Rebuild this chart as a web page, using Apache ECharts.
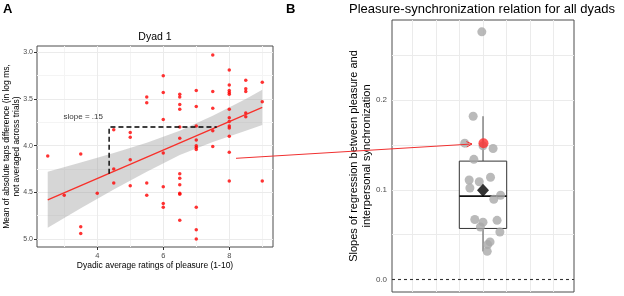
<!DOCTYPE html>
<html>
<head>
<meta charset="utf-8">
<style>
  html, body { margin: 0; padding: 0; background: #fff; }
  #chart { width: 624px; height: 296px; }
</style>
<script src="https://cdn.jsdelivr.net/npm/echarts@6/dist/echarts.min.js"></script>
</head>
<body>
<div id="chart"></div>
<script>
// ---- panel A: dyad 1, one point per trial ----
const pleasureA = [
  2.5, 3, 3.5, 3.5, 3.5, 4, 4.5, 4.5, 4.5, 5, 5, 5, 5, 5.5, 5.5, 5.5, 5.5,
  6, 6, 6, 6, 6, 6, 6,
  6.5, 6.5, 6.5, 6.5, 6.5, 6.5, 6.5, 6.5, 6.5, 6.5, 6.5, 6.5,
  7, 7, 7, 7, 7, 7, 7, 7, 7, 7,
  7.5, 7.5, 7.5, 7.5, 7.5,
  8, 8, 8, 8, 8, 8, 8, 8, 8, 8, 8, 8, 8,
  8.5, 8.5, 8.5, 8.5, 8.5, 9, 9, 9
];
const tapDiffA = [
  4.11, 4.53, 4.09, 4.87, 4.94, 4.51, 3.83, 4.25, 4.40, 3.86, 3.91, 4.15, 4.43, 3.48, 3.54, 4.40, 4.53,
  3.25, 3.43, 3.72, 4.08, 4.44, 4.62, 4.66,
  3.45, 3.48, 3.56, 3.61, 3.80, 3.92, 4.30, 4.35, 4.42, 4.51, 4.52, 4.80,
  3.41, 3.58, 3.79, 3.94, 4.00, 4.02, 4.04, 4.66, 4.90, 5.00,
  3.03, 3.42, 3.60, 3.84, 4.01,
  3.19, 3.35, 3.41, 3.43, 3.45, 3.61, 3.70, 3.74, 3.79, 3.81, 3.90, 4.07, 4.38,
  3.30, 3.39, 3.42, 3.65, 3.69, 3.32, 3.53, 4.38
];
const fitX = [2.5, 9];
const fitY = [4.58, 3.59];
const bandX = [2.5, 3.5, 4.5, 5.5, 6.5, 7.5, 8.5, 9];
const bandLow = [4.28, 4.18, 4.08, 3.97, 3.84, 3.68, 3.50, 3.40];
const bandHigh = [4.88, 4.67, 4.47, 4.28, 4.10, 3.96, 3.84, 3.78];
const slopeX = [4.36, 4.36, 7.62];
const slopeY = [4.30, 3.80, 3.80];
const xTicksA = [4, 6, 8];
const xMinorA = [3, 5, 7, 9];
const yTicksA = [3.0, 3.5, 4.0, 4.5, 5.0];
const yMinorA = [3.25, 3.75, 4.25, 4.75];

// ---- panel B: one slope per dyad ----
const jitterB = [-0.05, -0.42, -0.78, 0.0, 0.43, -0.39, 0.32, -0.59, -0.16, -0.56, 0.75, 0.46,
  -0.35, 0.6, 0.0, -0.11, 0.72, 0.3, 0.2, 0.18];
const slopesB = [0.276, 0.182, 0.152, 0.149, 0.146, 0.134, 0.114, 0.111, 0.109, 0.102, 0.094, 0.0895,
  0.067, 0.066, 0.064, 0.0586, 0.053, 0.042, 0.039, 0.0315];
const boxB = [0.0315, 0.057, 0.093, 0.132, 0.182]; // whisker low, q1, median, q3, whisker high
const meanB = 0.0996;
const dyad1Slope = 0.152;
const yTicksB = [0.0, 0.1, 0.2];
const yMinorB = [0.05, 0.15, 0.25];
const xGridB = [-3, -2, -1, 0, 1, 2, 3];

const FONT = "'Liberation Sans', Arial, sans-serif";
const GRID_MAJOR = "#ebebeb";
const GRID_MINOR = "#f4f4f4";

function gridLines(axisKey, values, color) {
  return values.map(v => ({ [axisKey]: v, lineStyle: { color: color, width: 1, type: "solid" } }));
}

const chart = echarts.init(document.getElementById("chart"), null, { renderer: "canvas" });

const option = {
  animation: false,
  textStyle: { fontFamily: FONT },
  grid: [
    { left: 37, top: 46, width: 236, height: 201, show: true, borderColor: "#4d4d4d", borderWidth: 1, backgroundColor: "transparent" },
    { left: 392, top: 20, width: 182, height: 272, show: true, borderColor: "#4d4d4d", borderWidth: 1, backgroundColor: "transparent" }
  ],
  xAxis: [
    {
      gridIndex: 0, type: "value", min: 2.175, max: 9.325,
      axisLine: { show: false },
      axisTick: { show: true, length: 3, lineStyle: { color: "#333" }, customValues: xTicksA },
      axisLabel: { fontSize: 7.5, color: "#4d4d4d", margin: 5, fontFamily: FONT, customValues: xTicksA },
      splitLine: { show: false }
    },
    {
      gridIndex: 1, type: "value", min: -3.88, max: 3.88,
      axisLine: { show: false }, axisTick: { show: false }, axisLabel: { show: false },
      splitLine: { show: false }
    }
  ],
  yAxis: [
    {
      gridIndex: 0, type: "value", inverse: true, min: 2.9325, max: 5.0857,
      axisLine: { show: false },
      axisTick: { show: true, length: 3, lineStyle: { color: "#333" }, customValues: yTicksA },
      axisLabel: {
        fontSize: 7, color: "#4d4d4d", margin: 4, fontFamily: FONT, customValues: yTicksA,
        formatter: v => v.toFixed(1)
      },
      splitLine: { show: false }
    },
    {
      gridIndex: 1, type: "value", min: -0.0138, max: 0.2892,
      axisLine: { show: false },
      axisTick: { show: true, length: 3, lineStyle: { color: "#333" }, customValues: yTicksB },
      axisLabel: {
        fontSize: 8, color: "#4d4d4d", margin: 5, fontFamily: FONT, customValues: yTicksB,
        formatter: v => v.toFixed(1)
      },
      splitLine: { show: false }
    }
  ],
  series: [
    // panel A grid lines
    {
      type: "line", xAxisIndex: 0, yAxisIndex: 0, data: [], z: 1, silent: true,
      markLine: {
        z: 1, silent: true, symbol: "none", label: { show: false }, animation: false,
        data: [].concat(
          gridLines("xAxis", xMinorA, GRID_MINOR), gridLines("yAxis", yMinorA, GRID_MINOR),
          gridLines("xAxis", xTicksA, GRID_MAJOR), gridLines("yAxis", yTicksA, GRID_MAJOR)
        )
      }
    },
    // confidence band
    {
      type: "custom", xAxisIndex: 0, yAxisIndex: 0, z: 2, silent: true,
      data: [[bandX[0], bandLow[0]]],
      renderItem: (params, api) => {
        const pts = [];
        bandX.forEach((x, i) => pts.push(api.coord([x, bandHigh[i]])));
        for (let i = bandX.length - 1; i >= 0; i--) pts.push(api.coord([bandX[i], bandLow[i]]));
        return { type: "polygon", shape: { points: pts }, style: { fill: "rgba(153,153,153,0.4)" } };
      }
    },
    {
      type: "scatter", xAxisIndex: 0, yAxisIndex: 0, z: 3, symbolSize: 3.5,
      itemStyle: { color: "#ff0000" },
      data: pleasureA.map((x, i) => [x, tapDiffA[i]])
    },
    {
      type: "line", xAxisIndex: 0, yAxisIndex: 0, z: 4, symbol: "none",
      lineStyle: { color: "#f8302a", width: 1.3 },
      data: fitX.map((x, i) => [x, fitY[i]])
    },
    {
      type: "line", xAxisIndex: 0, yAxisIndex: 0, z: 5, symbol: "none",
      lineStyle: { color: "#000", width: 1.4, type: [5, 3] },
      data: slopeX.map((x, i) => [x, slopeY[i]])
    },
    {
      type: "scatter", xAxisIndex: 0, yAxisIndex: 0, z: 5, symbolSize: 0, silent: true,
      data: [[2.98, 3.69]],
      label: {
        show: true, position: "right", distance: 0, formatter: "slope = .15",
        fontSize: 8, color: "#000", fontFamily: FONT
      }
    },
    // panel B grid lines and zero reference
    {
      type: "line", xAxisIndex: 1, yAxisIndex: 1, data: [], z: 1, silent: true,
      markLine: {
        z: 1, silent: true, symbol: "none", label: { show: false }, animation: false,
        data: [].concat(
          gridLines("xAxis", xGridB, GRID_MAJOR),
          gridLines("yAxis", yMinorB, GRID_MAJOR),
          gridLines("yAxis", yTicksB.slice(1), GRID_MAJOR)
        )
      }
    },
    {
      type: "line", xAxisIndex: 1, yAxisIndex: 1, data: [], z: 3, silent: true,
      markLine: {
        z: 3, silent: true, symbol: "none", label: { show: false }, animation: false,
        data: [{ yAxis: 0, lineStyle: { color: "#333", width: 1.1, type: [3, 3] } }]
      }
    },
    // box plot
    {
      type: "custom", xAxisIndex: 1, yAxisIndex: 1, z: 2, silent: true,
      data: [[0].concat(boxB)],
      encode: { x: 0, y: [1, 2, 3, 4, 5] },
      renderItem: (params, api) => {
        const lo = api.coord([0, api.value(1)]);
        const q1 = api.coord([0, api.value(2)]);
        const md = api.coord([0, api.value(3)]);
        const q3 = api.coord([0, api.value(4)]);
        const hi = api.coord([0, api.value(5)]);
        const left = api.coord([-1.01, 0])[0];
        const right = api.coord([1.01, 0])[0];
        const stroke = { stroke: "#4d4d4d", lineWidth: 1 };
        return {
          type: "group",
          children: [
            { type: "line", shape: { x1: lo[0], y1: lo[1], x2: q1[0], y2: q1[1] }, style: stroke },
            { type: "line", shape: { x1: q3[0], y1: q3[1], x2: hi[0], y2: hi[1] }, style: stroke },
            { type: "rect", shape: { x: left, y: q3[1], width: right - left, height: q1[1] - q3[1] },
              style: { fill: "#fff", stroke: "#333", lineWidth: 1 } },
            { type: "line", shape: { x1: left, y1: md[1], x2: right, y2: md[1] },
              style: { stroke: "#111", lineWidth: 1.6 } }
          ]
        };
      }
    },
    {
      type: "scatter", xAxisIndex: 1, yAxisIndex: 1, z: 4, symbolSize: 9,
      itemStyle: { color: "#a9a9a9" },
      data: jitterB.map((x, i) => [x, slopesB[i]])
    },
    {
      type: "scatter", xAxisIndex: 1, yAxisIndex: 1, z: 5, symbol: "diamond", symbolSize: [12, 13],
      itemStyle: { color: "#000" },
      data: [[0, meanB]]
    },
    {
      type: "scatter", xAxisIndex: 1, yAxisIndex: 1, z: 6, symbolSize: 10,
      itemStyle: { color: "#ff2d2d" },
      data: [[0.02, dyad1Slope]]
    }
  ],
  graphic: [
    { type: "text", left: 3, top: 3, style: { text: "A", font: "bold 13px " + FONT, fill: "#000" } },
    { type: "text", left: 286, top: 3, style: { text: "B", font: "bold 13px " + FONT, fill: "#000" } },
    { type: "text", x: 155, y: 37.5, style: { text: "Dyad 1", font: "10.5px " + FONT, fill: "#000", align: "center", verticalAlign: "middle" } },
    { type: "text", x: 155, y: 266, style: { text: "Dyadic average ratings of pleasure (1-10)", font: "8.5px " + FONT, fill: "#000", align: "center", verticalAlign: "middle" } },
    {
      type: "text", x: 12, y: 146.5, rotation: Math.PI / 2,
      style: {
        text: "Mean of absolute taps difference (in log ms,\nnot averaged across trials)",
        font: "8.5px " + FONT, fill: "#000", align: "center", verticalAlign: "middle", lineHeight: 10
      }
    },
    { type: "text", x: 482, y: 9.5, style: { text: "Pleasure-synchronization relation for all dyads", font: "13px " + FONT, fill: "#000", align: "center", verticalAlign: "middle" } },
    {
      type: "text", x: 360, y: 156, rotation: Math.PI / 2,
      style: {
        text: "Slopes of regression between pleasure and\ninterpersonal synchronization",
        font: "11px " + FONT, fill: "#000", align: "center", verticalAlign: "middle", lineHeight: 13
      }
    },
    // arrow linking the dyad 1 slope to its point in panel B
    { type: "line", z: 100, shape: { x1: 236, y1: 158.3, x2: 472, y2: 144 }, style: { stroke: "#f03030", lineWidth: 1 } },
    { type: "polyline", z: 100, shape: { points: [[466.4, 141.6], [472, 144], [466.7, 147.1]] }, style: { stroke: "#f03030", lineWidth: 1, fill: null } }
  ]
};

chart.setOption(option);
window.addEventListener("resize", chart.resize);
</script>
</body>
</html>
